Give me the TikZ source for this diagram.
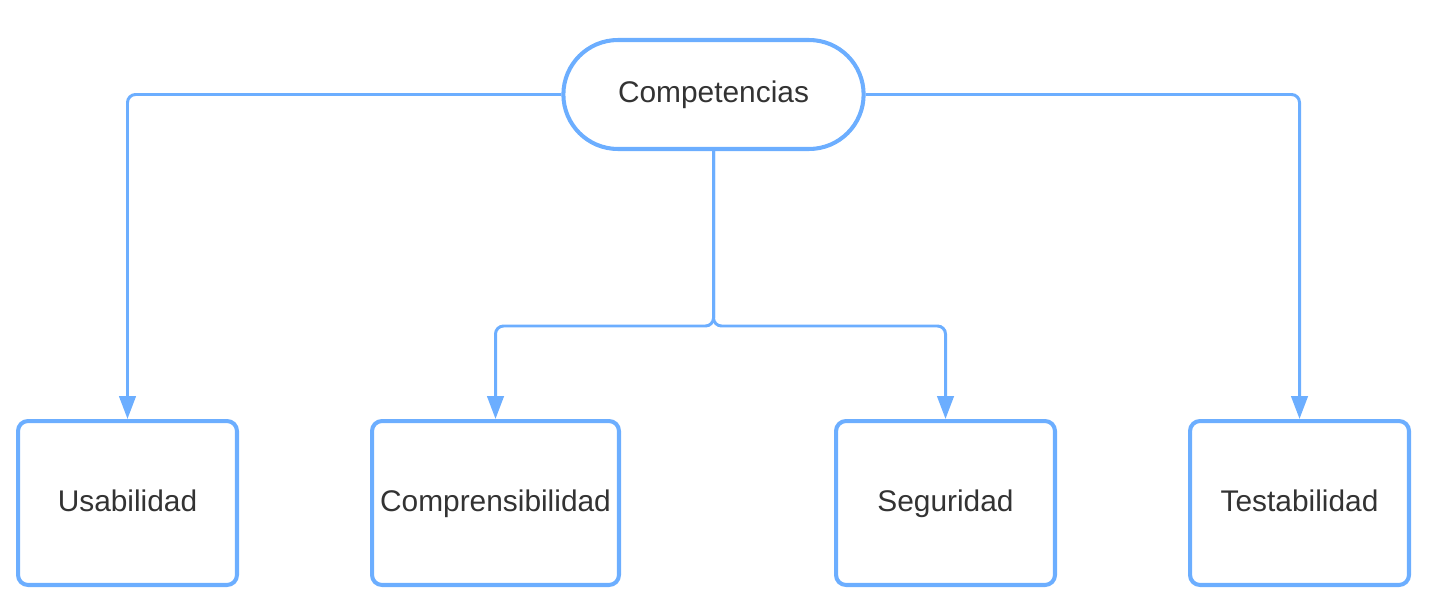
\documentclass[tikz,border=0pt]{standalone}
\usepackage{fontspec}
\setmainfont{Liberation Sans}
\usetikzlibrary{arrows.meta,shapes.misc}
\definecolor{ln}{RGB}{108,174,255}
\definecolor{tx}{RGB}{51,51,51}
\tikzset{
  >={Triangle[length=4.6mm,width=3.3mm]},
  bx/.style={draw=ln,line width=2.3pt,rounded corners=2mm,minimum width=4.38cm,minimum height=3.28cm,inner sep=0pt,text=tx,text height=12.5pt,text depth=2.5pt,font=\fontsize{17}{20}\selectfont},
  tp/.style={rounded rectangle,draw=ln,line width=2.3pt,minimum width=6.24cm,minimum height=2.18cm,text=tx,text height=12pt,text depth=3pt,font=\fontsize{17}{20}\selectfont},
  cn/.style={draw=ln,line width=1.7pt,rounded corners=1.6mm,->},
}
\begin{document}
\begin{tikzpicture}[x=0.02cm,y=-0.02cm]
\useasboundingbox (0,0) rectangle (1442,615);
\node[tp] (C) at (713.5,94.5){Competencias};
\node[bx] (U) at (127.5,503){Usabilidad}; \node[bx,minimum width=4.94cm] (P) at (495.5,503){Comprensibilidad};
\node[bx] (S) at (945.5,503){Seguridad}; \node[bx] (T) at (1299.5,503){Testabilidad};
\coordinate (k) at (713.5,326);
\draw[cn] (C.west) -| (U.north); \draw[cn] (C.east) -| (T.north);
\draw[cn] (C.south) -- (k) -| (P.north); \draw[cn] (C.south) -- (k) -| (S.north);
\end{tikzpicture}
\end{document}
